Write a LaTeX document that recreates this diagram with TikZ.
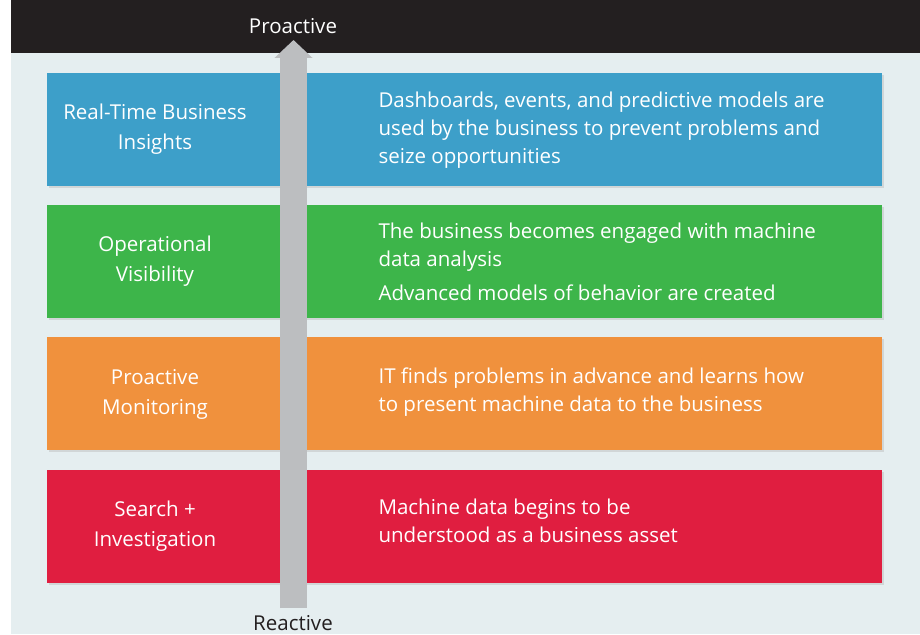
\documentclass[tikz,border=0pt]{standalone}
\usepackage{fontspec}
\setmainfont{Open Sans}
\usetikzlibrary{arrows.meta,positioning,shadows}
\definecolor{fond}{HTML}{E5EEF0}
\definecolor{noir}{HTML}{231F20}
\definecolor{bleu}{HTML}{3D9FC9}
\definecolor{vert}{HTML}{3DB54A}
\definecolor{orange}{HTML}{F0913D}
\definecolor{rouge}{HTML}{E01E40}
\definecolor{fleche}{HTML}{BCBEC0}
\tikzset{
  niveau/.style={fill=#1,drop shadow={shadow xshift=1.5pt,shadow yshift=-1.5pt,fill=black!25}},
  titre/.style={text=white,font=\fontsize{20.5}{30}\selectfont,align=center},
  texte/.style={text=white,font=\fontsize{20.5}{28}\selectfont,align=left,anchor=west}
}
\begin{document}
\begin{tikzpicture}[x=1pt,y=-1pt]%
        \useasboundingbox (0,0) rectangle (920,634);%%
        \fill[white] (0,0) rectangle (920,634);%%
        \fill[fond] (11,0) rectangle (920,634);%%
        \fill[noir] (11,0) rectangle (920,53);%%
        \begin{scope}
        \filldraw[niveau=bleu,draw=none] (47,73) rectangle (882,186);%%
        \filldraw[niveau=vert,draw=none] (47,205) rectangle (882,318);%%
        \filldraw[niveau=orange,draw=none] (47,337) rectangle (882,450);%%
        \filldraw[niveau=rouge,draw=none] (47,470) rectangle (882,583);%%
        \end{scope}
        \coordinate (bas) at (293.5,608); %%
        \coordinate (haut) at (293.5,40); %%
        \draw[fleche,line width=27pt,-{Triangle[width=37pt,length=18pt]}] (bas)--(haut); %%
        \node[text=white,font=\fontsize{20.5}{24}\selectfont] (pro) at (293,26) {Proactive}; %%
        \node[text=noir,font=\fontsize{20.5}{24}\selectfont] (rea) at (293,623) {Reactive}; %%
        \begin{scope}
        \tikzstyle{every node}=[titre] %%
        \node (t1) at (155,129) {Real-Time Business\\Insights}; %%
        \node (t2) at (155,261.5) {Operational\\Visibility}; %%
        \node (t3) at (155,394) {Proactive\\Monitoring}; %%
        \node (t4) at (155,526.5) {Search +\\Investigation}; %%
        \end{scope}
        \begin{scope}
        \tikzstyle{every node}=[texte] %%
        \node (d1) at (375,130) {Dashboards, events, and predictive models are\\used by the business to prevent problems and\\seize opportunities}; %%
        \node (d2) at (375,262) {The business becomes engaged with machine\\data analysis\\[6pt]Advanced models of behavior are created}; %%
        \node (d3) at (375,392) {IT finds problems in advance and learns how\\to present machine data to the business}; %%
        \node (d4) at (375,521) {Machine data begins to be\\understood as a business asset}; %%
        \end{scope}
\end{tikzpicture}
\end{document}
